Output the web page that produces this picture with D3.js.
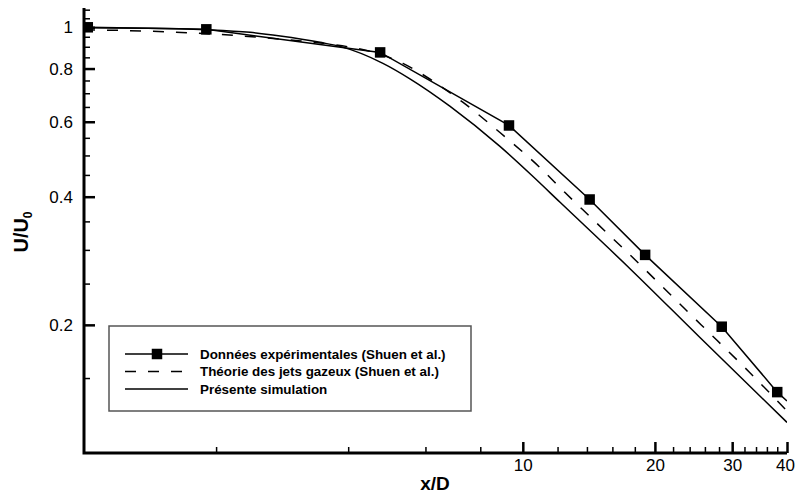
<!DOCTYPE html>
<html>
<head>
<meta charset="utf-8">
<script src="https://cdn.jsdelivr.net/npm/d3@7"></script>
<style>
  body { margin: 0; background: #fff; }
  svg { display: block; font-family: "Liberation Sans", Arial, sans-serif; }
</style>
</head>
<body>
<div id="chart"></div>
<script>
// centreline velocity decay, log-log plot

// experimental points (Shuen et al.) - last one is just where the line leaves the frame
const expX = [1.02, 1.9, 4.73, 9.3, 14.2, 19.0, 28.4, 38.0, 40];
const expY = [1.0, 0.989, 0.873, 0.588, 0.394, 0.292, 0.198, 0.139, 0.1325];

// gas jet theory (dashed)
const theoryX = [1, 1.41, 2.0, 2.52, 3.0, 3.5, 4.0, 4.73, 5.33, 6.15, 7.31, 8.87, 10.95, 12.48, 14.23, 18.5, 23.3, 27.7, 32.8, 40];
const theoryY = [0.987, 0.979, 0.963, 0.947, 0.932, 0.917, 0.900, 0.864, 0.823, 0.755, 0.666, 0.566, 0.468, 0.409, 0.359, 0.277, 0.219, 0.184, 0.155, 0.1255];

// present simulation (solid)
const simX = [1, 1.41, 1.9, 2.39, 2.8, 3.45, 3.83, 4.8, 5.53, 6.83, 8.87, 10.55, 12.16, 17.55, 25.3, 40];
const simY = [0.997, 0.995, 0.987, 0.973, 0.954, 0.922, 0.902, 0.823, 0.757, 0.652, 0.525, 0.446, 0.388, 0.271, 0.187, 0.118];

// ticks
const xMajorTicks = [10, 20, 30, 40];
const xMinorTicks = [2, 4, 6, 8, 12, 14, 16, 18, 22, 24, 26, 28, 32, 34, 36, 38];
const yMajorTicks = [0.2, 0.4, 0.6, 0.8, 1];
const yMinorTicks = [0.15, 0.25, 0.3, 0.35, 0.45, 0.5, 0.55, 0.65, 0.7, 0.75, 0.85, 0.9, 0.95, 1.05, 1.1];

const xDomain = [1, 40];
const yDomain = [0.1, 1.11];

const legendLabels = [
  "Données expérimentales (Shuen et al.)",
  "Théorie des jets gazeux (Shuen et al.)",
  "Présente simulation"
];

// dimensions
const margin = { top: 8, right: 8, bottom: 42, left: 84 },
      totalWidth = 795,
      totalHeight = 495,
      width = totalWidth - margin.left - margin.right,
      height = totalHeight - margin.top - margin.bottom;

const svg = d3.select("#chart")
  .append("svg")
    .attr("width", totalWidth)
    .attr("height", totalHeight)
  .append("g")
    .attr("transform", `translate(${margin.left},${margin.top})`);

const x = d3.scaleLog().domain(xDomain).range([0, width]);
const y = d3.scaleLog().domain(yDomain).range([height, 0]);

const toPoints = (xs, ys) => xs.map((v, i) => ({ x: v, y: ys[i] }));
const expData = toPoints(expX, expY);
const theoryData = toPoints(theoryX, theoryY);
const simData = toPoints(simX, simY);

// clip everything to the frame
svg.append("clipPath")
  .attr("id", "plot-clip")
  .append("rect")
    .attr("width", width)
    .attr("height", height);

const plot = svg.append("g").attr("clip-path", "url(#plot-clip)");

const line = d3.line()
  .x(d => x(d.x))
  .y(d => y(d.y));

const smooth = d3.line()
  .x(d => x(d.x))
  .y(d => y(d.y))
  .curve(d3.curveMonotoneX);

plot.append("path")
  .datum(simData)
  .attr("fill", "none")
  .attr("stroke", "#000")
  .attr("stroke-width", 1.5)
  .attr("d", smooth);

plot.append("path")
  .datum(theoryData)
  .attr("fill", "none")
  .attr("stroke", "#000")
  .attr("stroke-width", 1.5)
  .attr("stroke-dasharray", "11,12")
  .attr("d", smooth);

plot.append("path")
  .datum(expData)
  .attr("fill", "none")
  .attr("stroke", "#000")
  .attr("stroke-width", 1.5)
  .attr("d", line);

const markerSize = 10.5;
plot.selectAll(".exp-marker")
  .data(expData.filter(d => d.x < xDomain[1]))
  .enter()
  .append("rect")
    .attr("class", "exp-marker")
    .attr("x", d => x(d.x) - markerSize / 2)
    .attr("y", d => y(d.y) - markerSize / 2)
    .attr("width", markerSize)
    .attr("height", markerSize)
    .attr("fill", "#000");

// axes - ticks point inward, majors heavier than minors
function styleAxis(g, strokeW) {
  g.select(".domain").remove();
  g.selectAll(".tick line").attr("stroke", "#000").attr("stroke-width", strokeW);
  g.selectAll(".tick text").style("font-size", "17px").attr("fill", "#000");
}

svg.append("g")
  .attr("transform", `translate(0,${height})`)
  .call(d3.axisBottom(x).tickValues(xMinorTicks).tickSize(-6).tickFormat(""))
  .call(g => styleAxis(g, 1.5));

svg.append("g")
  .attr("transform", `translate(0,${height})`)
  .call(d3.axisBottom(x).tickValues(xMajorTicks).tickSize(-11).tickFormat(d3.format("d")))
  .call(g => styleAxis(g, 2.5))
  .call(g => g.selectAll(".tick text").attr("y", 18).attr("dy", "0"))
  // the last label sits against the right edge, keep it inside the page
  .call(g => g.selectAll(".tick text").filter(d => d === xDomain[1]).attr("x", -2));

svg.append("g")
  .call(d3.axisLeft(y).tickValues(yMinorTicks).tickSize(-6).tickFormat(""))
  .call(g => styleAxis(g, 1.5));

svg.append("g")
  .call(d3.axisLeft(y).tickValues(yMajorTicks).tickSize(-11).tickFormat(d => d === 1 ? "1" : d3.format(".1f")(d)))
  .call(g => styleAxis(g, 2.5))
  .call(g => g.selectAll(".tick text").attr("x", -11));

// axis lines
svg.append("path")
  .attr("d", `M0,0V${height}H${width}`)
  .attr("fill", "none")
  .attr("stroke", "#000")
  .attr("stroke-width", 3);

// axis titles
svg.append("text")
  .attr("x", 435 - margin.left)
  .attr("y", height + 37)
  .style("text-anchor", "middle")
  .style("font-weight", "bold")
  .style("font-size", "19px")
  .text("x/D");

const yTitle = svg.append("text")
  .attr("transform", `translate(${28 - margin.left},${232 - margin.top}) rotate(-90)`)
  .style("text-anchor", "middle")
  .style("font-weight", "bold")
  .style("font-size", "20px");
yTitle.append("tspan").text("U/U");
yTitle.append("tspan").attr("dy", "0.3em").style("font-size", "12px").text("0");

// legend
const legend = svg.append("g")
  .attr("transform", `translate(${109 - margin.left},${326 - margin.top})`);

legend.append("rect")
  .attr("width", 362)
  .attr("height", 85)
  .attr("fill", "#fff")
  .attr("stroke", "#555")
  .attr("stroke-width", 1.5);

const rows = legend.selectAll(".legend-item")
  .data(legendLabels)
  .enter()
  .append("g")
    .attr("class", "legend-item")
    .attr("transform", (d, i) => `translate(0,${28 + i * 17.5})`);

rows.append("line")
  .attr("x1", 16)
  .attr("x2", (d, i) => i === 1 ? 74 : 79)
  .attr("stroke", "#000")
  .attr("stroke-width", 1.5)
  .attr("stroke-dasharray", (d, i) => i === 1 ? "11,12" : null);

rows.filter((d, i) => i === 0)
  .append("rect")
    .attr("x", 48 - markerSize / 2)
    .attr("y", -markerSize / 2)
    .attr("width", markerSize)
    .attr("height", markerSize)
    .attr("fill", "#000");

rows.append("text")
  .attr("x", 91)
  .attr("dy", "0.35em")
  .style("font-weight", "bold")
  .style("font-size", "13.4px")
  .text(d => d);
</script>
</body>
</html>
